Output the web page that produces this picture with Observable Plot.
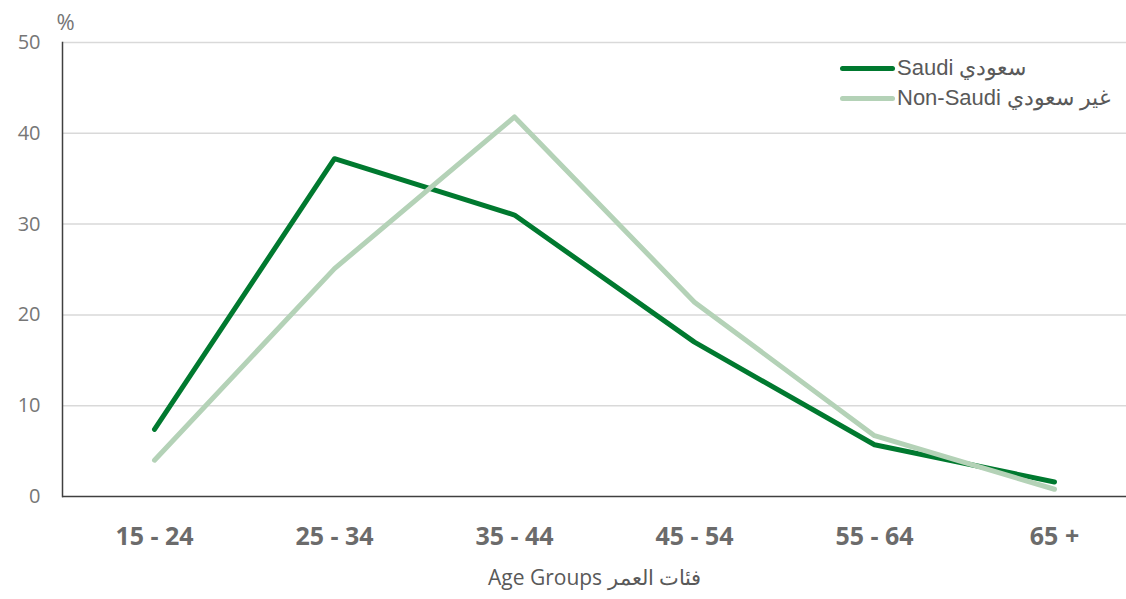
<!DOCTYPE html>
<html>
<head>
<meta charset="utf-8">
<script src="https://cdn.jsdelivr.net/npm/d3@7"></script>
<script src="https://cdn.jsdelivr.net/npm/@observablehq/plot@0.6"></script>
<style>
  body { margin: 0; background: #fff; }
  #wrap { position: relative; width: 1126px; height: 599px; }
  #legend { position: absolute; left: 840px; top: 53px; font-family: "Liberation Sans", Arial, sans-serif; font-size: 22px; color: #595959; }
  .item { display: flex; align-items: center; height: 30px; }
  .sw { width: 55px; height: 5px; border-radius: 3px; margin-right: 2px; }
</style>
</head>
<body>
<div id="wrap"><div id="legend"></div></div>
<script>
const ageGroups = ["15 - 24", "25 - 34", "35 - 44", "45 - 54", "55 - 64", "65 +"];
const saudi = [7.4, 37.2, 31.0, 17.0, 5.7, 1.6];
const nonSaudi = [4.0, 25.1, 41.8, 21.4, 6.7, 0.8];
const seriesNames = ["Saudi سعودي", "Non-Saudi غير سعودي"];
const seriesColors = ["#00792f", "#b4d2b7"];
const yTicks = [0, 10, 20, 30, 40, 50];

const rows = [];
ageGroups.forEach((g, i) => {
  rows.push({group: g, value: saudi[i], series: seriesNames[0]});
  rows.push({group: g, value: nonSaudi[i], series: seriesNames[1]});
});

const chart = Plot.plot({
  width: 1126,
  height: 599,
  marginTop: 42,
  marginBottom: 103,
  marginLeft: 62,
  marginRight: 0,
  style: {background: "transparent", overflow: "visible"},
  x: {type: "point", domain: ageGroups, range: [62, 62 + 6 * 180.6], padding: 0.5},
  y: {domain: [0, 50], ticks: yTicks},
  color: {domain: seriesNames, range: seriesColors},
  marks: [
    Plot.gridY(yTicks.filter(d => d > 0), {stroke: "#d9d9d9", strokeOpacity: 1, strokeWidth: 1.5}),
    Plot.axisY(yTicks, {tickSize: 0, tickPadding: 22, fontSize: 20, fill: "#767676", label: null, fontFamily: "Open Sans"}),
    Plot.axisX({tickSize: 0, tickPadding: 31, fontSize: 25, fontWeight: "bold", fill: "#6b6b6b", fontFamily: "Open Sans",
      label: "Age Groups فئات العمر", labelAnchor: "center", labelOffset: 88}),
    Plot.frame({anchor: "left", stroke: "#404040", strokeWidth: 1.5}),
    Plot.ruleY([0], {stroke: "#404040", strokeWidth: 1.5}),
    Plot.text(["%"], {frameAnchor: "top-left", dx: -6, dy: -28, fontSize: 22, fill: "#767676", fontFamily: "Open Sans"}),
    Plot.line(rows, {x: "group", y: "value", stroke: "series", z: "series", strokeWidth: 5, strokeLinecap: "round", strokeLinejoin: "round",
      sort: {channel: "stroke", order: "descending"}})
  ]
});
chart.querySelectorAll('g[aria-label="x-axis label"] text, g[aria-label="x-axis label"]').forEach(el => {
  el.setAttribute("font-size", "21");
  el.setAttribute("font-weight", "normal");
  el.setAttribute("fill", "#595959");
});
document.getElementById("wrap").prepend(chart);

const legend = document.getElementById("legend");
seriesNames.forEach((name, i) => {
  const item = document.createElement("div");
  item.className = "item";
  item.innerHTML = `<span class="sw" style="background:${seriesColors[i]}"></span><span>${name}</span>`;
  legend.appendChild(item);
});
</script>
</body>
</html>
